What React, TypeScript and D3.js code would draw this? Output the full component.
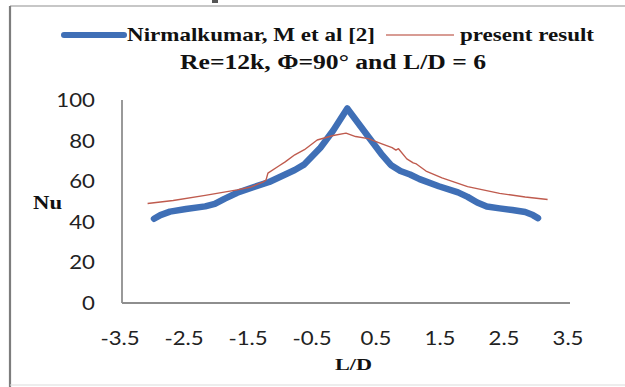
import React from "react";
import * as d3 from "d3";

const W = 625;
const H = 387;

// Nirmalkumar, M et al [2]
const refX = [-3.0, -2.9, -2.75, -2.5, -2.2, -2.05, -1.9, -1.7, -1.45, -1.2, -0.95, -0.8, -0.65, -0.4, -0.2, 0.02, 0.3, 0.55, 0.7, 0.85, 1.0, 1.15, 1.45, 1.75, 1.9, 2.05, 2.2, 2.4, 2.6, 2.8, 2.92, 3.0];
const refNu = [41.5, 43.3, 45, 46.3, 47.6, 48.8, 51.3, 54.3, 57, 59.6, 63.3, 65.5, 68.3, 76.5, 85, 95.8, 84, 73.5, 68, 65, 63.3, 61, 57.5, 54.5, 52.3, 49.5, 47.5, 46.6, 45.8, 44.8, 43.3, 41.8];

// present result
const presX = [-3.1, -2.7, -2.2, -1.7, -1.5, -1.3, -1.25, -1.22, -1.05, -0.95, -0.8, -0.65, -0.45, -0.2, 0.0, 0.15, 0.35, 0.55, 0.72, 0.78, 0.82, 0.95, 1.05, 1.1, 1.25, 1.5, 1.9, 2.4, 2.8, 3.15];
const presNu = [49, 50.5, 53, 55.7, 57, 59.5, 60.5, 64, 67.5, 69.5, 73, 75.5, 80.3, 82.5, 83.7, 82, 81, 78.5, 76.5, 75.3, 76, 71, 69, 68.5, 65, 61.6, 57.3, 54, 52.2, 51];

const xTicks = [-3.5, -2.5, -1.5, -0.5, 0.5, 1.5, 2.5, 3.5];
const yTicks = [0, 20, 40, 60, 80, 100];

const legendLabels = ["Nirmalkumar, M et al [2]", "present result"];
const titleText = "Re=12k, \u03A6=90\u00B0 and L/D = 6";
const xLabel = "L/D";
const yLabel = "Nu";

export default function App() {
  const x = d3.scaleLinear().domain([-3.5, 3.5]).range([122, 570]);
  const y = d3.scaleLinear().domain([0, 100]).range([303, 100]);

  const refPts: [number, number][] = refX.map((v, i) => [v, refNu[i]]);
  const presPts: [number, number][] = presX.map((v, i) => [v, presNu[i]]);

  const lineStraight = d3
    .line<[number, number]>()
    .x((d) => x(d[0]))
    .y((d) => y(d[1]));

  const blue = "#3f6fb6";
  const red = "#bf5b4e";
  const axisColor = "#8e8e8e";
  const serif = "'Liberation Serif', 'Times New Roman', serif";
  const sans = "Lato, 'Open Sans', sans-serif";

  return (
    <svg
      width={W}
      height={H}
      style={{ position: "absolute", left: 0, top: 0, background: "#fff" }}
    >
      <rect x={0} y={0} width={W} height={H} fill="#fff" />
      {/* frame */}
      <line x1={10} x2={W} y1={6} y2={6} stroke="#b4b4b4" strokeWidth={1.5} />
      <line x1={10} x2={10} y1={6} y2={H} stroke="#7d7d7d" strokeWidth={2.2} />
      <line x1={10} x2={W} y1={385} y2={385} stroke="#dcdcdc" strokeWidth={1.2} />
      <rect x={212} y={0} width={6} height={3} fill="#555" />

      {/* legend */}
      <line x1={64} x2={124} y1={35} y2={35} stroke={blue} strokeWidth={6} strokeLinecap="round" />
      <text
        x={127}
        y={41}
        fontFamily={serif}
        fontWeight="bold"
        fontSize={19}
        textLength={248}
        lengthAdjust="spacingAndGlyphs"
        fill="#111"
      >
        {legendLabels[0]}
      </text>
      <line x1={386} x2={454} y1={35} y2={35} stroke={red} strokeWidth={1.4} opacity={0.8} />
      <text
        x={460}
        y={41}
        fontFamily={serif}
        fontWeight="bold"
        fontSize={19}
        textLength={134}
        lengthAdjust="spacingAndGlyphs"
        fill="#111"
      >
        {legendLabels[1]}
      </text>

      {/* title */}
      <text
        x={180}
        y={69}
        fontFamily={serif}
        fontWeight="bold"
        fontSize={20}
        textLength={306}
        lengthAdjust="spacingAndGlyphs"
        fill="#111"
      >
        {titleText}
      </text>

      {/* axes */}
      <line x1={x(-3.5)} x2={x(-3.5)} y1={y(100)} y2={y(0)} stroke={axisColor} strokeWidth={1.8} />
      <line x1={x(-3.5)} x2={x(3.5)} y1={y(0)} y2={y(0)} stroke={axisColor} strokeWidth={1.8} />

      {yTicks.map((t) => (
        <text
          key={"y" + t}
          transform={`translate(95,${y(t) + 7}) scale(1.17,1)`}
          textAnchor="end"
          fontFamily={sans}
          fontSize={19}
          fill="#222"
        >
          {t}
        </text>
      ))}
      {xTicks.map((t) => (
        <text
          key={"x" + t}
          transform={`translate(${x(t) - 2},${345}) scale(1.17,1)`}
          textAnchor="middle"
          fontFamily={sans}
          fontSize={19}
          fill="#222"
        >
          {t.toFixed(1)}
        </text>
      ))}

      <text
        x={33}
        y={209}
        fontFamily={serif}
        fontWeight="bold"
        fontSize={18}
        textLength={29}
        lengthAdjust="spacingAndGlyphs"
        fill="#111"
      >
        {yLabel}
      </text>
      <text
        x={335}
        y={370}
        fontFamily={serif}
        fontWeight="bold"
        fontSize={17}
        textLength={37}
        lengthAdjust="spacingAndGlyphs"
        fill="#111"
      >
        {xLabel}
      </text>

      {/* series */}
      <path
        d={lineStraight(refPts) || ""}
        fill="none"
        stroke={blue}
        strokeWidth={6.5}
        strokeLinecap="round"
        strokeLinejoin="round"
      />
      <path
        d={lineStraight(presPts) || ""}
        fill="none"
        stroke={red}
        strokeWidth={1.4}
        strokeLinejoin="round"
      />
    </svg>
  );
}
